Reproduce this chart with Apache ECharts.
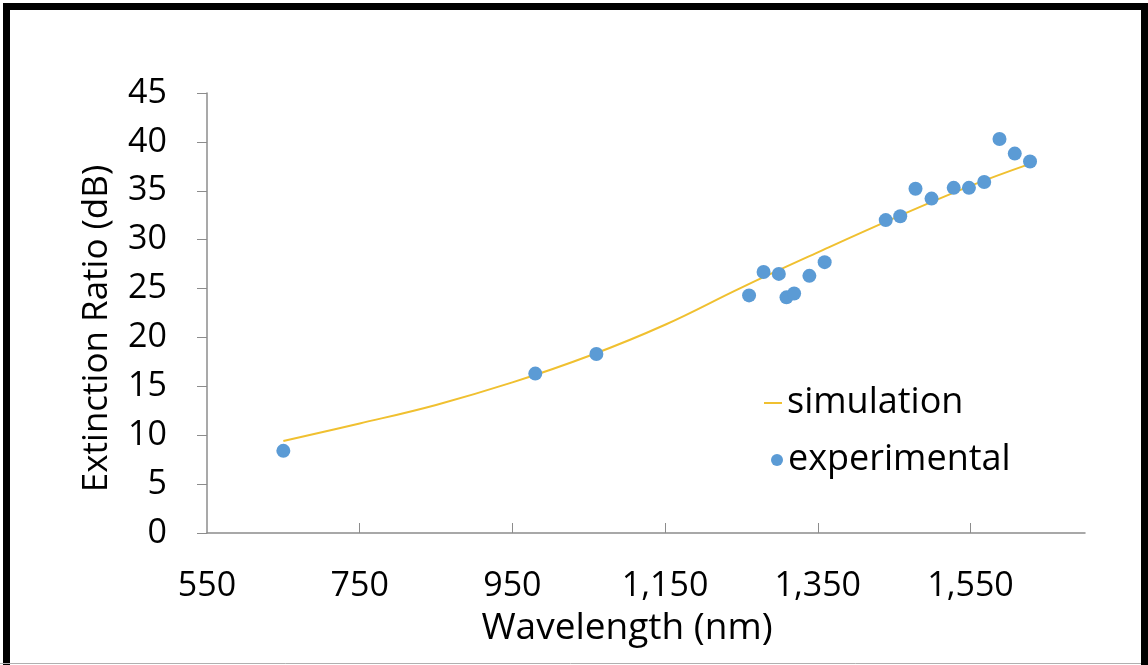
<!DOCTYPE html>
<html>
<head>
<meta charset="utf-8">
<script src="https://cdn.jsdelivr.net/npm/echarts@6/dist/echarts.min.js"></script>
<style>
  html, body { margin: 0; padding: 0; background: #fff; }
  #chart { width: 1148px; height: 665px; }
</style>
</head>
<body>
<div id="chart"></div>
<script>
// 坐标轴刻度
const xTicks = [550, 750, 950, 1150, 1350, 1550];

// 仿真曲线
const simWavelength = [650, 750, 850, 950, 1050, 1150, 1250, 1350, 1450, 1550, 1626];
const simRatio = [9.4, 11.2, 13.1, 15.4, 18.1, 21.3, 25.1, 28.7, 32.2, 35.5, 37.7];

// 实验数据点
const expWavelength = [650, 980, 1060, 1260, 1279, 1299, 1309, 1319, 1339, 1359, 1439, 1458, 1478, 1499, 1528, 1548, 1568, 1588, 1608, 1628];
const expRatio = [8.4, 16.3, 18.3, 24.3, 26.7, 26.5, 24.1, 24.5, 26.3, 27.7, 32.0, 32.4, 35.2, 34.2, 35.3, 35.3, 35.9, 40.3, 38.8, 38.0];

const font = '"Open Sans", "Noto Sans", sans-serif';
const axisGrey = '#8c8c8c';

var myChart = echarts.init(document.getElementById('chart'));
myChart.setOption({
  animation: false,
  backgroundColor: '#fff',
  textStyle: { fontFamily: font, color: '#000' },
  graphic: [
    // 外框
    { type: 'rect', shape: { x: 6.5, y: 6.5, width: 1138, height: 700 },
      style: { fill: 'none', stroke: '#000', lineWidth: 7 } },
    { type: 'line', shape: { x1: 0, y1: 663.5, x2: 1141, y2: 663.5 },
      style: { stroke: '#b0b0b0', lineWidth: 1 } }
  ],
  grid: { left: 207, right: 63, top: 93, bottom: 132 },
  legend: [
    {
      data: ['simulation'],
      left: 759, top: 380,
      icon: 'rect', itemWidth: 18, itemHeight: 2,
      textStyle: { fontFamily: font, fontSize: 36, color: '#000' }
    },
    {
      data: ['experimental'],
      left: 766, top: 437,
      icon: 'circle', itemWidth: 12, itemHeight: 12,
      textStyle: { fontFamily: font, fontSize: 36, color: '#000' }
    }
  ],
  xAxis: {
    type: 'value',
    min: 550, max: 1700, interval: 200,
    name: 'Wavelength (nm)',
    nameLocation: 'middle',
    nameGap: 77,
    nameTextStyle: { fontFamily: font, fontSize: 37, color: '#000', padding: [0, 38, 0, 0] },
    axisLine: { show: true, lineStyle: { color: axisGrey, width: 1.5 } },
    axisTick: { show: true, inside: true, length: 10, customValues: xTicks.slice(1), lineStyle: { color: axisGrey } },
    axisLabel: {
      margin: 36, fontSize: 34, color: '#000', fontFamily: font,
      customValues: xTicks,
      formatter: v => v.toLocaleString('en-US')
    },
    splitLine: { show: false }
  },
  yAxis: {
    type: 'value',
    min: 0, max: 45, interval: 5,
    name: 'Extinction Ratio (dB)',
    nameLocation: 'middle',
    nameGap: 92,
    nameTextStyle: { fontFamily: font, fontSize: 35, color: '#000', padding: [0, 31, 0, 0] },
    axisLine: { show: true, lineStyle: { color: axisGrey, width: 1.5 } },
    axisTick: { show: true, inside: false, length: 10, lineStyle: { color: axisGrey } },
    axisLabel: { margin: 40, fontSize: 34, color: '#000', fontFamily: font },
    splitLine: { show: false }
  },
  series: [
    {
      name: 'simulation',
      type: 'line',
      data: simWavelength.map((x, i) => [x, simRatio[i]]),
      smooth: 0.4,
      showSymbol: false,
      lineStyle: { color: '#F0C030', width: 2 },
      itemStyle: { color: '#F0C030' },
      z: 2
    },
    {
      name: 'experimental',
      type: 'scatter',
      data: expWavelength.map((x, i) => [x, expRatio[i]]),
      symbolSize: 14,
      itemStyle: { color: '#5B9BD5', opacity: 1 },
      z: 3
    }
  ]
});
</script>
</body>
</html>
